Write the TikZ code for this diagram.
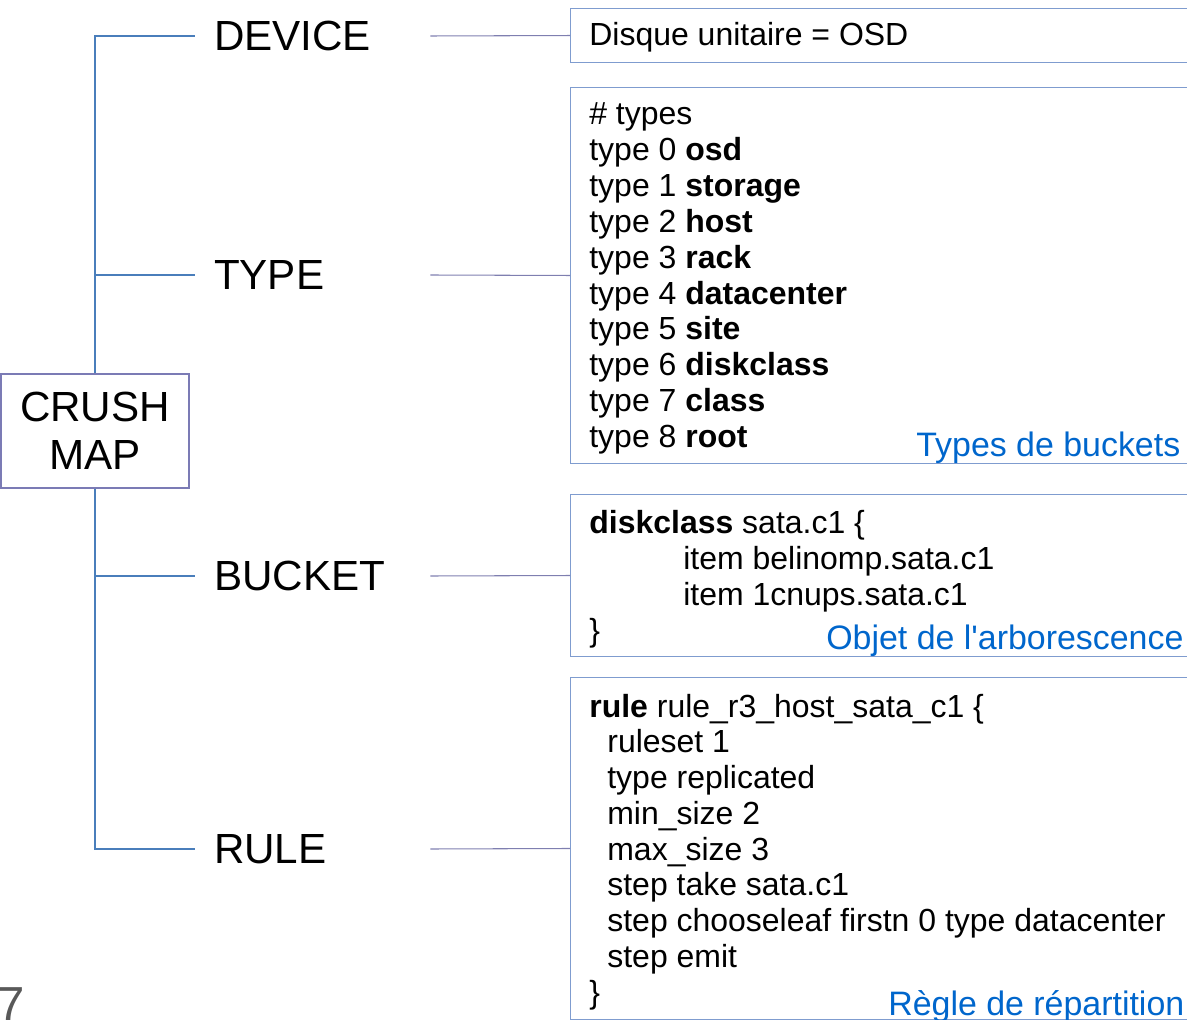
\documentclass[tikz,border=0pt]{standalone}
\usepackage{fontspec}
\setmainfont{Liberation Sans}
\usepackage{xcolor}

\definecolor{treeblue}{HTML}{4A7EBB}
\definecolor{linkgray}{HTML}{7F7FB0}
\definecolor{boxblue}{HTML}{7F9CCF}
\definecolor{rootblue}{HTML}{7B7BB5}
\definecolor{noteblue}{HTML}{0066CC}
\definecolor{pagegray}{HTML}{595959}

\begin{document}
\begin{tikzpicture}[x=0.02cm, y=-0.02cm,
    branch/.style={font=\fontsize{24}{27}\selectfont, text width=3.94cm, inner xsep=0.38cm, inner ysep=0pt, align=left},
    panel/.style={draw=boxblue, line width=0.6pt, anchor=north west, minimum width=12.8cm, inner sep=0pt},
    code/.style={font=\fontsize{18.2}{20.3}\selectfont, anchor=base west, inner sep=0pt},
    note/.style={font=\fontsize{19.3}{22}\selectfont, text=noteblue, anchor=base west, inner sep=0pt},
    tree/.style={draw=treeblue, line width=0.6pt},
    link/.style={draw=linkgray, line width=0.6pt}]
        \useasboundingbox (0,0) rectangle (1187,1020);

        % Root
        \node[draw=rootblue, line width=0.6pt, minimum width=3.76cm, minimum height=2.28cm, inner sep=0pt, align=center, font=\fontsize{24}{27.2}\selectfont] (crush) at (95,431) {CRUSH\\MAP};

        % Branches
        \node[branch] (device) at (312.5,36) {DEVICE};
        \node[branch] (type) at (312.5,275) {TYPE};
        \node[branch] (bucket) at (312.5,576) {BUCKET};
        \node[branch] (rule) at (312.5,849) {RULE};

        % Panels
        \node[panel, minimum height=1.08cm] (devbox) at (570,8) {};
        \node[panel, minimum height=7.52cm] (typebox) at (570,87) {};
        \node[panel, minimum height=3.24cm] (bucketbox) at (570,494) {};
        \node[panel, minimum height=6.84cm] (rulebox) at (570,677) {};

        % Tree
        \draw[tree] (crush.north) |- (device.west);
        \draw[tree] (crush.north) |- (type.west);
        \draw[tree] (crush.south) |- (bucket.west);
        \draw[tree] (crush.south) |- (rule.west);

        \draw[link] (device.east) -- (devbox.west);
        \draw[link] (type.east) -- (typebox.west);
        \draw[link] (bucket.east) -- (bucketbox.west);
        \draw[link] (rule.east) -- (rulebox.west);

        % Device
        \node[code] (disk) at (589,46) {Disque unitaire = OSD};

        % Types
        \node[code] (tyhead) at (589,125) {\# types};
        \foreach \n/\w in {0/osd,1/storage,2/host,3/rack,4/datacenter,5/site,6/diskclass,7/class,8/root}
            \node[code] (ty\n) at (589,161+35.8*\n) {type \n\ \textbf{\w}};
        \node[note] (typenote) at (916,457) {Types de buckets};

        % Bucket
        \node[code] (bk0) at (589,533) {\textbf{diskclass} sata.c1 \{};
        \node[code] (bk1) at (683,569) {item belinomp.sata.c1};
        \node[code] (bk2) at (683,605) {item 1cnups.sata.c1};
        \node[code] (bk3) at (589,641) {\}};
        \node[note] (bucketnote) at (826,649) {Objet de l\textquotesingle arborescence};

        % Rule
        \node[code] (ru0) at (589,717) {\textbf{rule} rule\_r3\_host\_sata\_c1 \{};
        \foreach \t [count=\i] in {ruleset 1, type replicated, min\_size 2, max\_size 3, step take sata.c1, step chooseleaf firstn 0 type datacenter, step emit}
            \node[code] (ru\i) at (607,717+35.75*\i) {\t};
        \node[code] (ru8) at (589,1003) {\}};
        \node[note] (rulenote) at (888,1015) {Règle de répartition};

        % Page number
        \node[font=\fontsize{28}{30}\selectfont, text=pagegray, anchor=base west, inner sep=0pt] (pageno) at (-3,1021) {7};
    \end{tikzpicture}
\end{document}
